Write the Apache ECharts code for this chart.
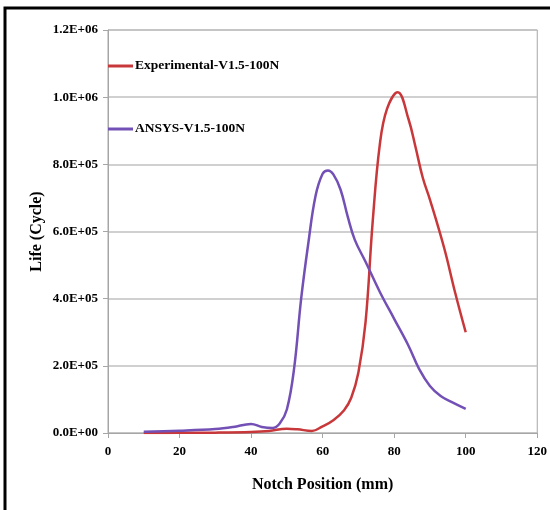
<!DOCTYPE html>
<html><head><meta charset="utf-8">
<script src="https://cdn.jsdelivr.net/npm/echarts@6/dist/echarts.min.js"></script>
<style>html,body{margin:0;padding:0;background:#fff}#c{width:550px;height:510px}</style>
</head><body><div id="c"></div>
<script>
const seriesNames = ['Experimental-V1.5-100N', 'ANSYS-V1.5-100N'];
const experimental = [[10,0],[20,500],[30,1000],[40,3000],[45,6000],[50,13000],[53,11000],[57,6000],[60,20000],[63,38000],[66,68000],[68,105000],[70,180000],[72,330000],[74,630000],[76,860000],[78,965000],[81,1015000],[84,935000],[86,850000],[88,760000],[90,695000],[94,550000],[97,420000],[100,300000]];
const ansys = [[10,4000],[20,7000],[30,12000],[35,18000],[40,27000],[43,18000],[46,15000],[48,28000],[50,70000],[52,190000],[54,400000],[56,565000],[58,705000],[60,772000],[61.5,782000],[63,770000],[65,725000],[67,645000],[69,575000],[72,510000],[76,420000],[80,340000],[84,260000],[87,190000],[90,140000],[93,110000],[96,93000],[100,72000]];
const xTicks = {min:0, max:120, interval:20};
const yTicks = {min:0, max:1200000, interval:200000};
const xTitle = 'Notch Position (mm)';
const yTitle = 'Life (Cycle)';

function sci(v){
  if (v === 0) return '0.0E+00';
  const e = Math.floor(Math.log10(v) + 1e-9);
  const m = v / Math.pow(10, e);
  return m.toFixed(1) + 'E+' + String(e).padStart(2, '0');
}

const font = 'Liberation Serif';
const chart = echarts.init(document.getElementById('c'));
chart.setOption({
  animation:false,
  graphic:[{type:'rect', shape:{x:5,y:8,width:560,height:520}, style:{fill:'none', stroke:'#000', lineWidth:3}}],
  grid:{left:108, right:9, top:30, bottom:77, show:true, borderColor:'#a6a6a6', borderWidth:1},
  legend:[
    {data:[seriesNames[0]], left:108, top:59, padding:0, icon:'rect', itemWidth:25, itemHeight:3, itemGap:2,
     textStyle:{fontFamily:font, fontWeight:'bold', fontSize:13.5, color:'#000', padding:[0,0,0,-3]}},
    {data:[seriesNames[1]], left:108, top:122, padding:0, icon:'rect', itemWidth:25, itemHeight:3, itemGap:2,
     textStyle:{fontFamily:font, fontWeight:'bold', fontSize:13.5, color:'#000', padding:[0,0,0,-3]}}
  ],
  xAxis:{type:'value', min:xTicks.min, max:xTicks.max, interval:xTicks.interval,
    name:xTitle, nameLocation:'middle', nameGap:44,
    nameTextStyle:{fontFamily:font, fontWeight:'bold', fontSize:16, color:'#000'},
    axisLine:{lineStyle:{color:'#a6a6a6'}}, axisTick:{show:true, length:5, lineStyle:{color:'#a6a6a6'}},
    axisLabel:{fontFamily:font, fontWeight:'bold', fontSize:13, color:'#000', margin:12},
    splitLine:{show:false}},
  yAxis:{type:'value', min:yTicks.min, max:yTicks.max, interval:yTicks.interval,
    name:yTitle, nameLocation:'middle', nameGap:63, nameRotate:90, nameMoveOverlap:false,
    nameTextStyle:{fontFamily:font, fontWeight:'bold', fontSize:16, color:'#000'},
    axisLine:{show:true, lineStyle:{color:'#a6a6a6'}}, axisTick:{show:true, length:5, lineStyle:{color:'#a6a6a6'}},
    axisLabel:{fontFamily:font, fontWeight:'bold', fontSize:13, color:'#000', margin:10, formatter:sci},
    splitLine:{show:true, lineStyle:{color:'#c0c0c0', width:1.5}}},
  series:[
    {name:seriesNames[0], type:'line', data:experimental, smooth:0.4, symbol:'none', lineStyle:{color:'#c8383a', width:2.5}, itemStyle:{color:'#c8383a'}},
    {name:seriesNames[1], type:'line', data:ansys, smooth:0.4, symbol:'none', lineStyle:{color:'#7350b5', width:2.5}, itemStyle:{color:'#7350b5'}}
  ]
});
</script></body></html>
